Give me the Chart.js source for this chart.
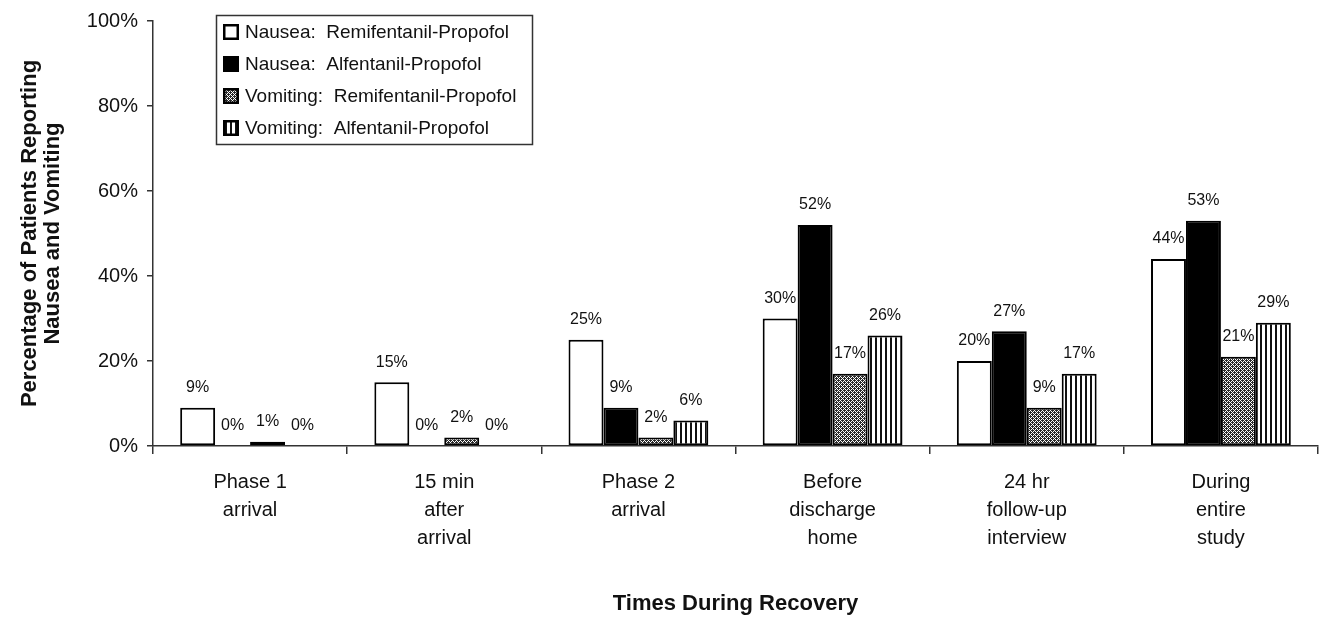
<!DOCTYPE html>
<html>
<head>
<meta charset="utf-8">
<script src="https://cdn.jsdelivr.net/npm/chart.js@4"></script>
<style>
  html, body { margin: 0; padding: 0; background: #fff; }
  #wrap { width: 1320px; height: 620px; }
</style>
</head>
<body>
<div id="wrap"><canvas id="nvChart" width="1320" height="620"></canvas></div>
<script>
// categories along x (multi-line labels)
const categories = [
    ['Phase 1', 'arrival'],
    ['15 min', 'after', 'arrival'],
    ['Phase 2', 'arrival'],
    ['Before', 'discharge', 'home'],
    ['24 hr', 'follow-up', 'interview'],
    ['During', 'entire', 'study']
];

const seriesNames = [
    'Nausea:  Remifentanil-Propofol',
    'Nausea:  Alfentanil-Propofol',
    'Vomiting:  Remifentanil-Propofol',
    'Vomiting:  Alfentanil-Propofol'
];

// percentages
const nauseaRemi = [9, 15, 25, 30, 20, 44];
const nauseaAlfe = [0, 0, 9, 52, 27, 53];
const vomitRemi = [1, 2, 2, 17, 9, 21];
const vomitAlfe = [0, 0, 6, 26, 17, 29];

const yMax = 100;
const yStep = 20;

const FONT = "'Liberation Sans', Arial, Helvetica, sans-serif";

function makeCrossHatch() {
    const c = document.createElement('canvas');
    c.width = 4;
    c.height = 4;
    const g = c.getContext('2d');
    g.fillStyle = '#2a2a2a';
    g.fillRect(0, 0, 4, 4);
    g.fillStyle = '#fff';
    for (let x = 0; x < 4; x++) {
        for (let y = 0; y < 4; y++) {
            if ((x + y) % 4 === 0 || (x - y + 4) % 4 === 0) g.fillRect(x, y, 1, 1);
        }
    }
    return g.createPattern(c, 'repeat');
}

function makeStripes() {
    const c = document.createElement('canvas');
    c.width = 5;
    c.height = 2;
    const g = c.getContext('2d');
    g.fillStyle = '#fff';
    g.fillRect(0, 0, 5, 2);
    g.fillStyle = '#111';
    g.fillRect(0, 0, 2, 2);
    return g.createPattern(c, 'repeat');
}

const crossHatch = makeCrossHatch();
const stripes = makeStripes();

// value labels, drawn before the bars so bars overlap them like in the original
const valueLabels = {
    id: 'valueLabels',
    beforeDatasetsDraw(chart) {
        const ctx = chart.ctx;
        ctx.save();
        ctx.font = '16px ' + FONT;
        ctx.fillStyle = '#111';
        ctx.textAlign = 'center';
        ctx.textBaseline = 'middle';
        chart.data.datasets.forEach((ds, i) => {
            chart.getDatasetMeta(i).data.forEach((bar, j) => {
                ctx.fillText(ds.data[j] + '%', bar.x, bar.y - 20);
            });
        });
        ctx.restore();
    }
};

// boxed legend in the upper left of the plot
const boxLegend = {
    id: 'boxLegend',
    afterDraw(chart) {
        const ctx = chart.ctx;
        const left = 216, top = 15, w = 316, h = 129;
        ctx.save();
        ctx.strokeStyle = '#333';
        ctx.lineWidth = 1.5;
        ctx.strokeRect(left + 0.5, top + 0.5, w, h);
        ctx.font = '19px ' + FONT;
        ctx.textBaseline = 'middle';
        chart.data.datasets.forEach((ds, i) => {
            const cy = 32 + i * 32;
            ctx.fillStyle = ds.backgroundColor;
            ctx.fillRect(223, cy - 8, 16, 16);
            ctx.strokeStyle = '#000';
            ctx.lineWidth = 2.5;
            ctx.strokeRect(224.25, cy - 6.75, 13.5, 13.5);
            ctx.fillStyle = '#111';
            ctx.fillText(ds.label, 245, cy + 1);
        });
        ctx.restore();
    }
};

const barStyle = {
    borderColor: '#000',
    borderWidth: 2,
    borderSkipped: false,
    barPercentage: 1.0,
    categoryPercentage: 0.72
};

const ctx = document.getElementById('nvChart').getContext('2d');
const chart = new Chart(ctx, {
    type: 'bar',
    data: {
        labels: categories,
        datasets: [
            { label: seriesNames[0], data: nauseaRemi, backgroundColor: '#fff', ...barStyle },
            { label: seriesNames[1], data: nauseaAlfe, backgroundColor: '#000', ...barStyle },
            { label: seriesNames[2], data: vomitRemi, backgroundColor: crossHatch, ...barStyle },
            { label: seriesNames[3], data: vomitAlfe, backgroundColor: stripes, ...barStyle }
        ]
    },
    options: {
        responsive: false,
        animation: false,
        layout: { padding: { top: 19, right: 2, bottom: 0, left: 0 } },
        plugins: {
            legend: { display: false },
            tooltip: { enabled: false }
        },
        scales: {
            x: {
                afterFit: (scale) => { scale.height = 174; },
                grid: {
                    offset: true,
                    drawOnChartArea: false,
                    tickLength: 8,
                    color: '#333',
                    lineWidth: 1.5
                },
                border: { color: '#333', width: 1.5 },
                ticks: {
                    color: '#111',
                    padding: 14,
                    maxRotation: 0,
                    font: { family: FONT, size: 20, lineHeight: 1.4 }
                },
                title: {
                    display: true,
                    text: 'Times During Recovery',
                    color: '#111',
                    padding: { top: 0, bottom: 3 },
                    font: { family: FONT, size: 22, weight: 'bold' }
                }
            },
            y: {
                min: 0,
                max: yMax,
                afterFit: (scale) => { scale.width = 153; },
                grid: {
                    drawOnChartArea: false,
                    tickLength: 6,
                    color: '#333',
                    lineWidth: 1.5
                },
                border: { color: '#333', width: 1.5 },
                ticks: {
                    stepSize: yStep,
                    color: '#111',
                    padding: 9,
                    font: { family: FONT, size: 20 },
                    callback: (value) => value + '%'
                },
                title: {
                    display: true,
                    text: ['Percentage of Patients Reporting', 'Nausea and Vomiting'],
                    color: '#111',
                    padding: { top: 18, bottom: 0 },
                    font: { family: FONT, size: 22, weight: 'bold', lineHeight: 1.05 }
                }
            }
        }
    },
    plugins: [valueLabels, boxLegend]
});
</script>
</body>
</html>
